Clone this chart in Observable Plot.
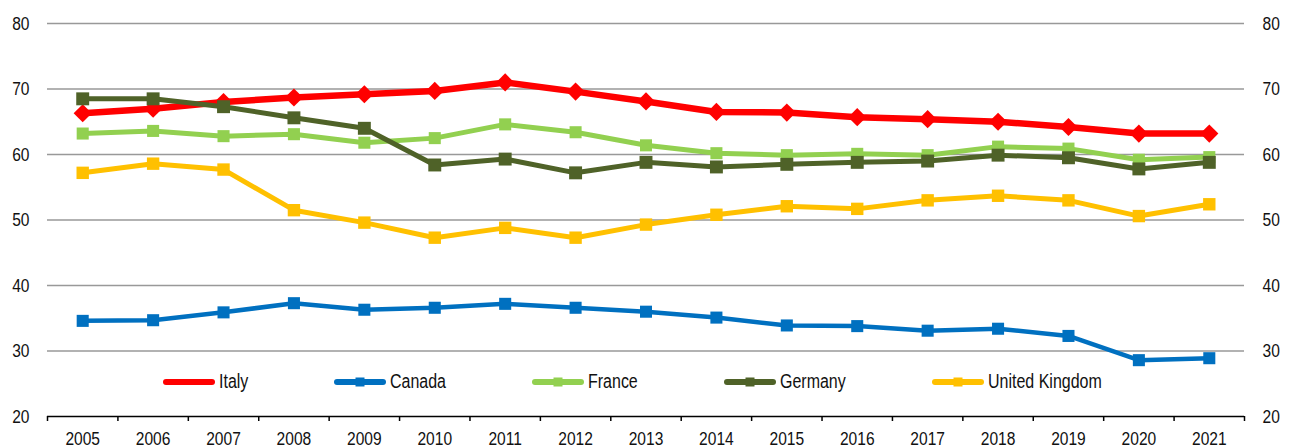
<!DOCTYPE html>
<html>
<head>
<meta charset="utf-8">
<script src="https://cdn.jsdelivr.net/npm/d3@7"></script>
<script src="https://cdn.jsdelivr.net/npm/@observablehq/plot@0.6"></script>
<style>
  html, body { margin: 0; padding: 0; background: #fff; }
  #wrap { position: relative; width: 1292px; height: 448px; font-family: "Liberation Sans", Arial, sans-serif; }
  #legend { position: absolute; left: 162px; top: 370px; display: flex; gap: 85px; align-items: center; font-size: 19.5px; color: #111; }
  .item { display: flex; align-items: center; gap: 3px; }
  .item span { display: inline-block; white-space: nowrap; transform-origin: left center; transform: scaleX(0.82); }
</style>
</head>
<body>
<div id="wrap"><div id="legend"></div></div>
<script>
const years = [2005,2006,2007,2008,2009,2010,2011,2012,2013,2014,2015,2016,2017,2018,2019,2020,2021];
const italy   = [66.3,67.0,68.0,68.7,69.2,69.7,71.0,69.6,68.1,66.5,66.4,65.7,65.4,65.0,64.2,63.2,63.2];
const canada  = [34.6,34.7,35.9,37.3,36.3,36.6,37.2,36.6,36.0,35.1,33.9,33.8,33.1,33.4,32.3,28.6,28.9];
const france  = [63.2,63.6,62.8,63.1,61.8,62.5,64.6,63.4,61.4,60.2,59.9,60.1,59.9,61.2,60.9,59.2,59.6];
const germany = [68.5,68.5,67.3,65.6,64.0,58.4,59.3,57.2,58.8,58.1,58.5,58.8,59.0,59.9,59.5,57.8,58.8];
const uk      = [57.2,58.6,57.7,51.5,49.6,47.3,48.8,47.3,49.3,50.8,52.1,51.7,53.0,53.7,53.0,50.6,52.4];
const seriesNames = ["Italy","Canada","France","Germany","United Kingdom"];
const seriesColors = ["#FF0000","#0070C0","#92D050","#4F6228","#FFC000"];
const yTicks = [20,30,40,50,60,70,80];
const gridTicks = [30,40,50,60,70,80];

const seriesValues = [italy, canada, france, germany, uk];
const styles = {
  "Italy": {sw: 6.5, symbol: "diamond2", r: 8.2},
  "Canada": {sw: 4.5, symbol: "square", r: 6.8},
  "France": {sw: 5, symbol: "square", r: 6.8},
  "Germany": {sw: 5, symbol: "square", r: 7.3},
  "United Kingdom": {sw: 5, symbol: "square", r: 7}
};

const boundaries = years.map(y => y - 0.5).concat([years[years.length - 1] + 0.5]);
const FS = 19;

const marks = [
  Plot.ruleY(gridTicks, {stroke: "#999", strokeWidth: 1.6}),
  Plot.ruleY([20], {stroke: "#000", strokeWidth: 1.6}),
  Plot.axisY({anchor: "left", ticks: yTicks, tickSize: 0, tickPadding: 18, fontSize: FS, label: null}),
  Plot.axisY({anchor: "right", ticks: yTicks, tickSize: 0, tickPadding: 18, fontSize: FS, label: null}),
  Plot.axisX({ticks: boundaries, tickSize: 5, tickFormat: () => "", stroke: "#000", strokeWidth: 1.5, label: null}),
  Plot.axisX({ticks: years, tickSize: 0, tickPadding: 15, tickFormat: d => String(d), fontSize: FS, label: null})
];

seriesNames.forEach((name, i) => {
  const data = years.map((y, j) => ({year: y, value: seriesValues[i][j]}));
  const st = styles[name];
  marks.push(Plot.line(data, {x: "year", y: "value", stroke: seriesColors[i], strokeWidth: st.sw, strokeLinejoin: "round"}));
  marks.push(Plot.dot(data, {x: "year", y: "value", fill: seriesColors[i], symbol: st.symbol, r: st.r, stroke: "none"}));
});

const chart = Plot.plot({
  width: 1292,
  height: 448,
  marginLeft: 47,
  marginRight: 48,
  marginTop: 23,
  marginBottom: 32,
  style: {fontFamily: "'Liberation Sans', Arial, sans-serif", fontSize: FS + "px", color: "#111", background: "#fff", overflow: "visible"},
  x: {type: "linear", domain: [years[0] - 0.5, years[years.length - 1] + 0.5]},
  y: {domain: [20, 80]},
  marks
});
document.getElementById("wrap").prepend(chart);

// Condense the tick label glyphs horizontally (reference uses a narrow face)
chart.querySelectorAll('g[aria-label$="tick label"] text').forEach(t => {
  const tr = t.getAttribute("transform") || "";
  t.setAttribute("transform", tr + " scale(0.82,1)");
});

// Legend (HTML overlay inside the plot area)
const legend = document.getElementById("legend");
seriesNames.forEach((name, i) => {
  const item = document.createElement("div");
  item.className = "item";
  const sw = document.createElementNS("http://www.w3.org/2000/svg", "svg");
  sw.setAttribute("width", 54);
  sw.setAttribute("height", 14);
  const c = seriesColors[i];
  const markerSize = name === "Italy" ? 2 : 9;
  sw.innerHTML = `<line x1="4" y1="7" x2="50" y2="7" stroke="${c}" stroke-width="6" stroke-linecap="round"/>` +
    `<rect x="${27 - markerSize / 2}" y="${7 - markerSize / 2}" width="${markerSize}" height="${markerSize}" fill="${c}"/>`;
  const label = document.createElement("span");
  label.textContent = name;
  item.appendChild(sw);
  item.appendChild(label);
  legend.appendChild(item);
  const w = label.getBoundingClientRect().width; // already scaled width
  label.style.width = w + "px";
});
</script>
</body>
</html>
